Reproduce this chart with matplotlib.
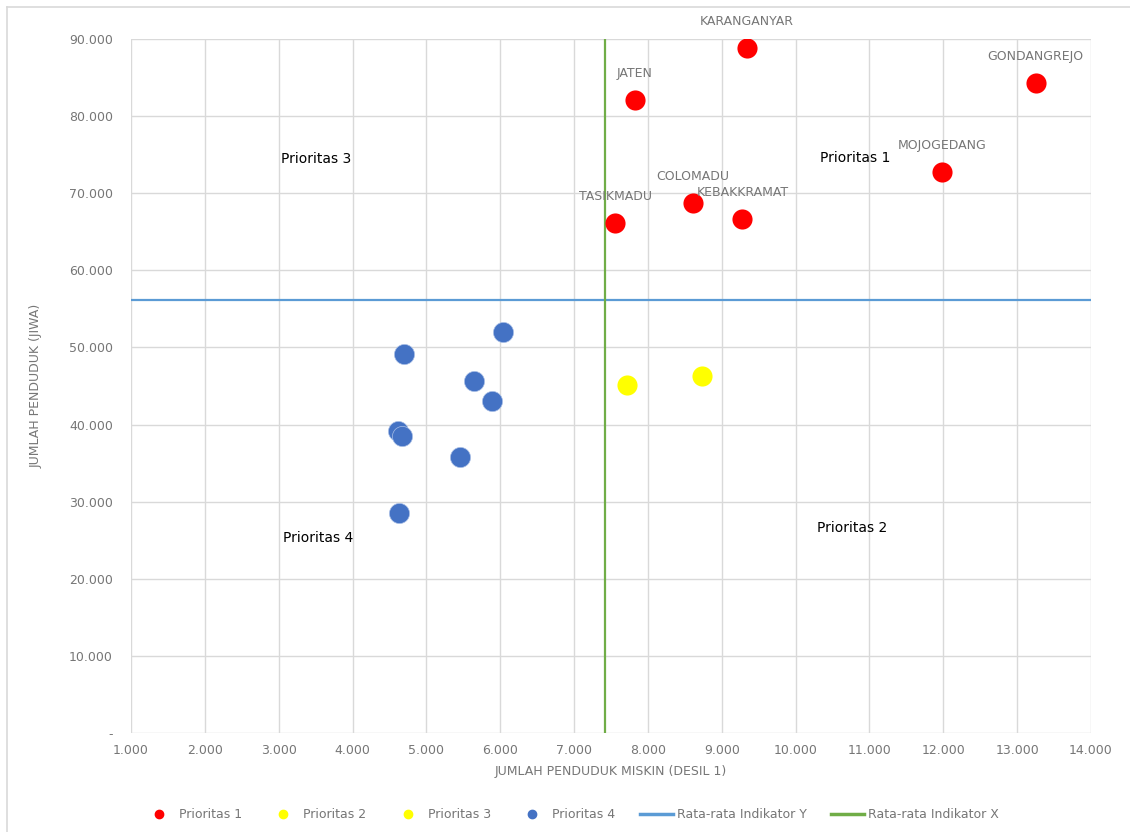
import matplotlib.pyplot as plt
from matplotlib.ticker import FuncFormatter, MultipleLocator
from matplotlib.lines import Line2D

# Prioritas 1 (kecamatan di kuadran kanan atas)
p1_names = ['KARANGANYAR', 'JATEN', 'GONDANGREJO', 'MOJOGEDANG',
            'COLOMADU', 'KEBAKKRAMAT', 'TASIKMADU']
p1_x = [9340, 7820, 13250, 11980, 8610, 9280, 7560]
p1_y = [88830, 82090, 84290, 72750, 68730, 66660, 66140]

# Prioritas 2
p2_x = [7720, 8730]
p2_y = [45130, 46300]

# Prioritas 3 (tidak ada data)
p3_x = []
p3_y = []

# Prioritas 4
p4_x = [6040, 4700, 5650, 5890, 4610, 4670, 5450, 4630]
p4_y = [52000, 49150, 45650, 43050, 39160, 38520, 35790, 28530]

# rata-rata indikator
avg_y = 56150
avg_x = 7425

quadrant_labels = ['Prioritas 1', 'Prioritas 2', 'Prioritas 3', 'Prioritas 4']
quadrant_pos = [(10810, 74570), (10760, 26590), (3510, 74440), (3535, 25290)]

grey = '#767676'
red = '#ff0000'
yellow = '#ffff00'
blue = '#4472c4'
line_blue = '#5b9bd5'
line_green = '#70ad47'

fig = plt.figure(figsize=(11.3, 8.32), dpi=100)
ax = fig.add_axes([131/1130, 1-733/832, (1091-131)/1130, (733-39)/832])

# chart frame (left and top edges only)
fx, fy = 7/1130, 1 - 7/832
fig.add_artist(Line2D([fx, fx], [0, fy], transform=fig.transFigure,
                      color='#d9d9d9', linewidth=1.2))
fig.add_artist(Line2D([fx, 1], [fy, fy], transform=fig.transFigure,
                      color='#d9d9d9', linewidth=1.2))

ax.axhline(avg_y, color=line_blue, linewidth=1.6, zorder=2)
ax.axvline(avg_x, color=line_green, linewidth=1.6, zorder=2)

ms = 210
ax.scatter(p1_x, p1_y, s=ms, color=red, zorder=3, linewidths=0)
ax.scatter(p2_x, p2_y, s=ms, color=yellow, zorder=3, linewidths=0)
ax.scatter(p3_x, p3_y, s=ms, color=yellow, zorder=3, linewidths=0)
ax.scatter(p4_x, p4_y, s=ms, color=blue, zorder=3,
           edgecolors='#a9bfe6', linewidths=0.5)

for name, x, y in zip(p1_names, p1_x, p1_y):
    ax.annotate(name, (x, y), xytext=(0, 19), textcoords='offset points',
                ha='center', va='center', fontsize=9, color=grey)

for lab, (x, y) in zip(quadrant_labels, quadrant_pos):
    ax.text(x, y, lab, ha='center', va='center', fontsize=10, color='black')

ax.set_xlim(1000, 14000)
ax.set_ylim(0, 90000)
ax.xaxis.set_major_locator(MultipleLocator(1000))
ax.yaxis.set_major_locator(MultipleLocator(10000))


def fmt(v, pos):
    if v == 0:
        return '-'
    return '{:,.0f}'.format(v).replace(',', '.')


ax.xaxis.set_major_formatter(FuncFormatter(fmt))
ax.yaxis.set_major_formatter(FuncFormatter(fmt))
ax.grid(True, color='#d9d9d9', linewidth=1.0, zorder=0)
ax.set_axisbelow(True)
for s in ax.spines.values():
    s.set_visible(False)
ax.tick_params(length=0, labelsize=9, colors=grey, pad=8)
ax.tick_params(axis='y', pad=13)

ax.set_xlabel('JUMLAH PENDUDUK MISKIN (DESIL 1)', fontsize=9, color=grey, labelpad=6)
ax.set_ylabel('JUMLAH PENDUDUK (JIWA)', fontsize=9, color=grey, labelpad=19)

handles = [
    Line2D([], [], marker='o', linestyle='none', color=red, markersize=6),
    Line2D([], [], marker='o', linestyle='none', color=yellow, markersize=6),
    Line2D([], [], marker='o', linestyle='none', color=yellow, markersize=6),
    Line2D([], [], marker='o', linestyle='none', color=blue, markersize=6),
    Line2D([], [], color=line_blue, linewidth=2.5),
    Line2D([], [], color=line_green, linewidth=2.5),
]
labels = ['Prioritas 1', 'Prioritas 2', 'Prioritas 3', 'Prioritas 4',
          'Rata-rata Indikator Y', 'Rata-rata Indikator X']
leg = fig.legend(handles, labels, loc='center', bbox_to_anchor=(0.505, 1-815/832),
                 ncol=6, frameon=False, fontsize=9, handlelength=2.6,
                 columnspacing=2.0, handletextpad=0.3)
for t in leg.get_texts():
    t.set_color(grey)

fig.savefig('out.png', dpi=100)
